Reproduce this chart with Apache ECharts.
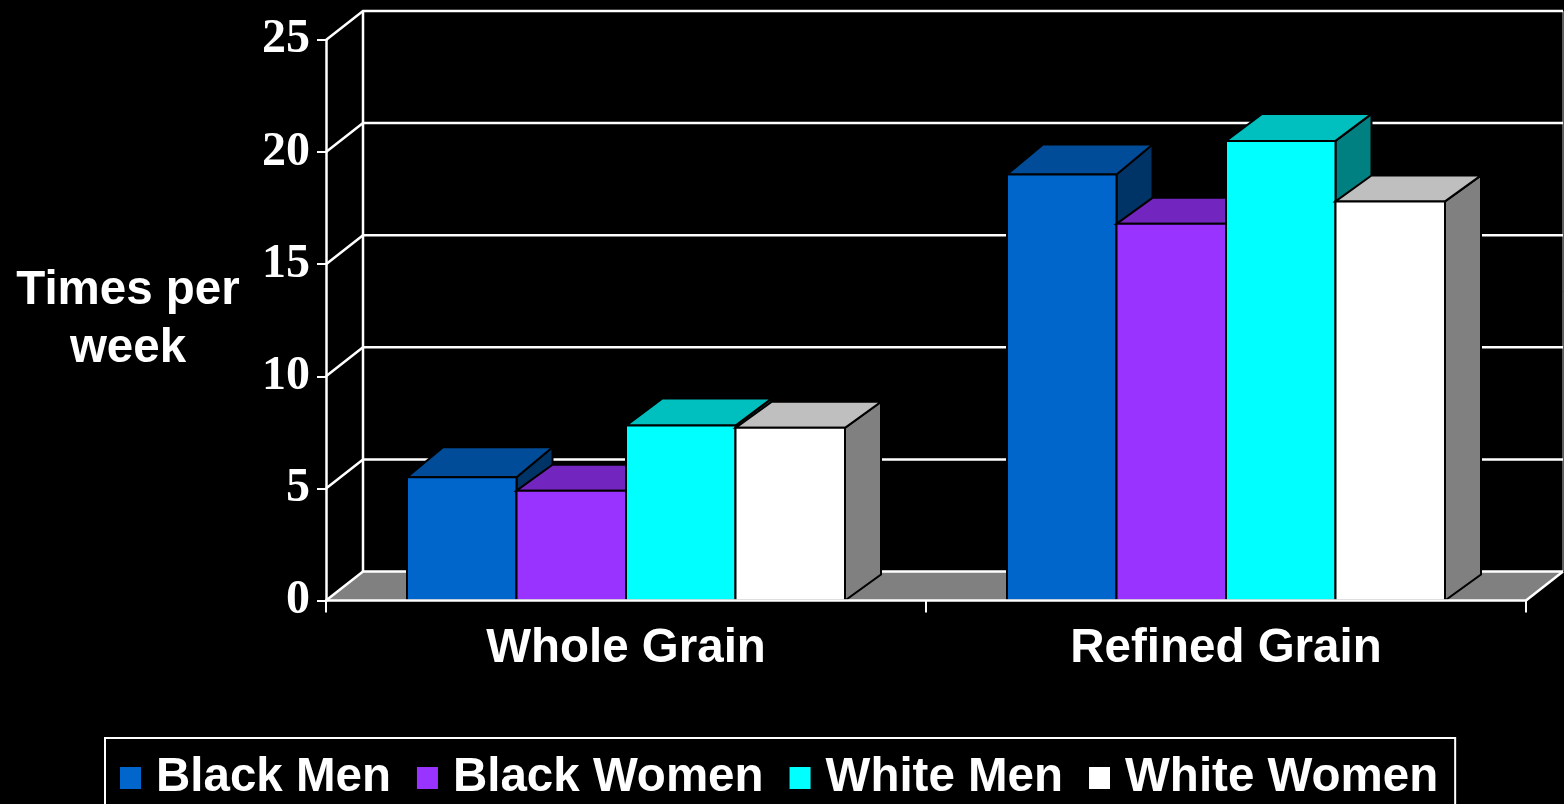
<!DOCTYPE html>
<html>
<head>
<meta charset="utf-8">
<title>Grain intake</title>
<style>
  html, body { margin: 0; padding: 0; background: #000; overflow: hidden; }
  #chart { width: 1564px; height: 804px; }
</style>
<script src="https://cdn.jsdelivr.net/npm/echarts@6/dist/echarts.min.js"></script>
</head>
<body>
<div id="chart"></div>
<script>
const categories = ['Whole Grain', 'Refined Grain']
const seriesNames = ['Black Men', 'Black Women', 'White Men', 'White Women']
const blackMen = [5.5, 19]
const blackWomen = [4.9, 16.8]
const whiteMen = [7.8, 20.5]
const whiteWomen = [7.7, 17.8]
const yTicks = [0, 5, 10, 15, 20, 25]

const seriesValues = [blackMen, blackWomen, whiteMen, whiteWomen]
const frontColors = ['#0066cc', '#9933ff', '#00ffff', '#ffffff']
const topColors = ['#004c99', '#7326bf', '#00bfbf', '#bfbfbf']
const sideColors = ['#003366', '#4d1a80', '#008080', '#808080']

// fake 3D offset of the chart box, in pixels
const depthX = 36
const depthY = 29
const barDepthY = [30, 26, 27, 26]
const barWidth = 109.5

const sansFont = '"Liberation Sans", Arial, sans-serif'
const serifFont = '"Liberation Serif", "Times New Roman", serif'

const whiteLine = { stroke: '#fff', lineWidth: 2.5, fill: 'none' }

const renderWall = (params, api) => {
  const rect = params.coordSys
  const y = api.coord([0, api.value(0)])[1]
  const left = rect.x
  const backLeft = rect.x + depthX + 1
  const backRight = rect.x + rect.width + depthX + 1
  const backY = y - depthY
  const children = []

  if (api.value(0) === 0) {
    children.push({
      type: 'polygon',
      shape: { points: [[left, y], [backLeft, backY], [backRight, backY], [backRight - depthX - 1, y]] },
      style: { fill: '#808080' },
    })
    children.push({
      type: 'line',
      shape: { x1: backRight, y1: backY, x2: backRight - depthX - 1, y2: y },
      style: whiteLine,
    })
    const topY = api.coord([0, yTicks[yTicks.length - 1]])[1] - depthY
    children.push({
      type: 'line',
      shape: { x1: backLeft, y1: backY, x2: backLeft, y2: topY },
      style: whiteLine,
    })
    children.push({
      type: 'line',
      shape: { x1: backRight, y1: backY, x2: backRight, y2: topY },
      style: { stroke: '#bbb', lineWidth: 1, fill: 'none' },
    })
  }
  children.push({
    type: 'polyline',
    shape: { points: [[left, y], [backLeft, backY], [backRight, backY]] },
    style: whiteLine,
  })
  return { type: 'group', children }
}

const renderBar = (seriesIndex) => (params, api) => {
  const center = api.coord([api.value(0), 0])[0]
  const x0 = center - barWidth * 2 + barWidth * seriesIndex
  const x1 = x0 + barWidth
  const yBase = api.coord([api.value(0), 0])[1]
  const yTop = api.coord([api.value(0), api.value(1)])[1]
  const dy = barDepthY[seriesIndex]
  const outline = { stroke: '#000', lineWidth: 2 }
  return {
    type: 'group',
    children: [
      {
        type: 'polygon',
        shape: { points: [[x1, yTop], [x1 + depthX, yTop - dy], [x1 + depthX, yBase - dy], [x1, yBase]] },
        style: { fill: sideColors[seriesIndex], ...outline },
      },
      {
        type: 'polygon',
        shape: { points: [[x0, yTop], [x0 + depthX, yTop - dy], [x1 + depthX, yTop - dy], [x1, yTop]] },
        style: { fill: topColors[seriesIndex], ...outline },
      },
      {
        type: 'rect',
        shape: { x: x0, y: yTop, width: barWidth, height: yBase - yTop },
        style: { fill: frontColors[seriesIndex], ...outline },
      },
    ],
  }
}

const option = {
  backgroundColor: '#000',
  animation: false,
  grid: { left: 326, right: 38, top: 40, height: 560.5 },
  legend: {
    data: seriesNames.map((name) => ({ name, icon: 'rect' })),
    left: 105,
    top: 738,
    orient: 'horizontal',
    itemWidth: 21,
    itemHeight: 22,
    itemGap: 26,
    padding: [16, 17, 30, 15],
    borderColor: '#fff',
    borderWidth: 2,
    selectedMode: false,
    textStyle: {
      color: '#fff',
      fontFamily: sansFont,
      fontWeight: 'bold',
      fontSize: 47.5,
      padding: [0, 0, 0, 10],
    },
  },
  xAxis: {
    type: 'category',
    data: categories,
    z: 5,
    axisLine: { lineStyle: { color: '#fff', width: 2.5 } },
    axisTick: { show: true, length: 12, lineStyle: { color: '#fff', width: 2 } },
    axisLabel: {
      color: '#fff',
      fontFamily: sansFont,
      fontWeight: 'bold',
      fontSize: 47.5,
      margin: 24,
    },
  },
  yAxis: {
    type: 'value',
    min: 0,
    max: yTicks[yTicks.length - 1],
    interval: 5,
    name: 'Times per\nweek',
    nameLocation: 'middle',
    nameRotate: 0,
    nameGap: 198,
    nameTextStyle: {
      color: '#fff',
      fontFamily: sansFont,
      fontWeight: 'bold',
      fontSize: 47.5,
      lineHeight: 58,
      align: 'center',
      verticalAlign: 'middle',
    },
    splitLine: { show: false },
    axisLine: { show: true, lineStyle: { color: '#fff', width: 2.5 } },
    axisTick: { show: true, length: 9, lineStyle: { color: '#fff', width: 2 } },
    axisLabel: {
      color: '#fff',
      fontFamily: serifFont,
      fontWeight: 'bold',
      fontSize: 48,
      margin: 16,
    },
  },
  series: [
    {
      name: 'wall',
      type: 'custom',
      silent: true,
      z: 1,
      renderItem: renderWall,
      encode: { y: 0 },
      data: yTicks.map((v) => [v]),
    },
    ...seriesNames.map((name, i) => ({
      name,
      type: 'custom',
      z: 2 + i,
      itemStyle: { color: frontColors[i] },
      renderItem: renderBar(i),
      encode: { x: 0, y: 1 },
      data: seriesValues[i].map((v, idx) => [idx, v]),
    })),
  ],
}

const chart = echarts.init(document.getElementById('chart'))
chart.setOption(option)
</script>
</body>
</html>
